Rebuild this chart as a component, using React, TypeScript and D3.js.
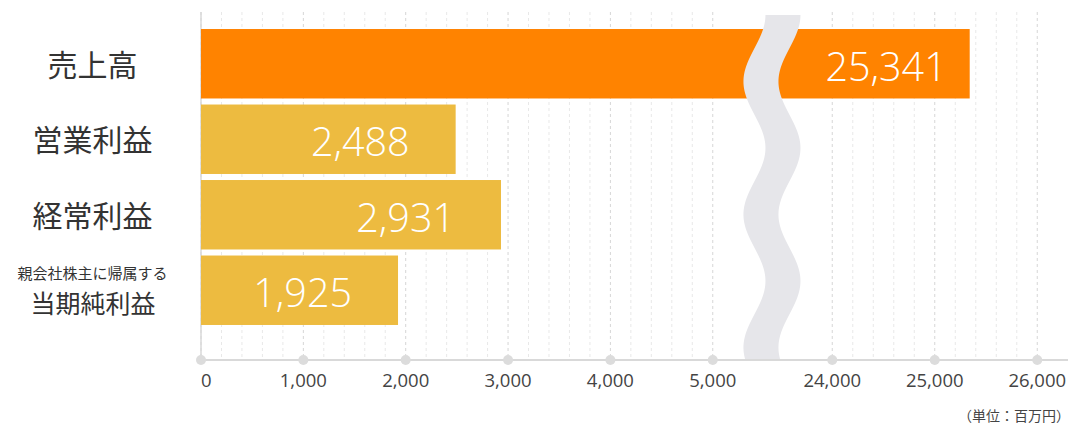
import React from "react";
import * as d3 from "d3";

const categories = ["売上高", "営業利益", "経常利益", "当期純利益"];
const subLabels = ["", "", "", "親会社株主に帰属する"];
const values = [25341, 2488, 2931, 1925];
const barColors = ["#FF8300", "#EDBB40", "#EDBB40", "#EDBB40"];
const tickValues = [0, 1000, 2000, 3000, 4000, 5000, 24000, 25000, 26000];
const breakLow = 5300;
const breakHigh = 23900;
const domainMax = 26300;
const unitLabel = "（単位：百万円）";

const W = 1074;
const H = 428;
const X0 = 201;
const AXIS_Y = 360;
const GRID_TOP = 12;

export default function App() {
  const x = d3
    .scaleLinear()
    .domain([0, breakLow, breakHigh, domainMax])
    .range([X0, X0 + breakLow * 0.10235, 1038.3 - (26000 - breakHigh) * 0.103, 1068]);

  const y = d3
    .scaleBand<string>()
    .domain(categories)
    .range([26, 328])
    .paddingInner(0.08)
    .paddingOuter(0.04);

  const fmt = d3.format(",");

  const minor = [
    ...d3.range(0, 5001, 200),
    ...d3.range(24000, 26001, 200),
  ];

  // break band
  const bandLeft = x(breakLow);
  const c = bandLeft + 28.5;
  const amp = 11;
  const period = 133;
  const half = 17.5;
  const ys = d3.range(15, 359.5, 1);
  const cx = (yy: number) => c + amp * Math.cos((2 * Math.PI * (yy - 15)) / period);
  const pts: [number, number][] = [
    ...ys.map((yy) => [cx(yy) - half, yy] as [number, number]),
    ...ys.slice().reverse().map((yy) => [cx(yy) + half, yy] as [number, number]),
  ];
  const bandPath = d3.line()(pts) + "Z";

  const jp = "'Noto Sans CJK JP', 'Noto Sans', sans-serif";
  const num = "'Open Sans', 'Noto Sans', sans-serif";

  return (
    <svg
      width={W}
      height={H}
      style={{ position: "absolute", left: 0, top: 0, display: "block", background: "#fff" }}
    >
      {/* grid */}
      {minor.map((v) => {
        const major = v % 1000 === 0;
        return (
          <line
            key={"g" + v}
            x1={x(v)}
            x2={x(v)}
            y1={GRID_TOP}
            y2={AXIS_Y}
            stroke={major ? "#d6d6d6" : "#e8e8e8"}
            strokeWidth={1}
            strokeDasharray="3,3"
          />
        );
      })}
      {/* left axis line */}
      <line x1={X0} x2={X0} y1={GRID_TOP} y2={AXIS_Y} stroke="#d9d9d9" strokeWidth={1.5} />

      {/* bars */}
      {categories.map((cat, i) => (
        <rect
          key={"b" + cat}
          x={x(0)}
          y={y(cat)!}
          width={x(values[i]) - x(0)}
          height={y.bandwidth()}
          fill={barColors[i]}
        />
      ))}

      {/* break band */}
      <path d={bandPath} fill="#E6E6EA" />

      {/* value labels */}
      {categories.map((cat, i) => (
        <text
          key={"v" + cat}
          x={x(values[i]) - (i === 0 ? 23 : 46)}
          y={y(cat)! + y.bandwidth() / 2 + 17}
          textAnchor="end"
          fill="#fff"
          fontFamily={num}
          fontWeight={300}
          fontSize={39.5}
        >
          {fmt(values[i])}
        </text>
      ))}

      {/* category labels */}
      {categories.map((cat, i) => {
        const cy = y(cat)! + y.bandwidth() / 2;
        if (subLabels[i]) {
          return (
            <g key={"c" + cat}>
              <text
                x={92.5}
                y={cy - 11}
                textAnchor="middle"
                fill="#333"
                fontFamily={jp}
                fontSize={15}
              >
                {subLabels[i]}
              </text>
              <text
                x={93}
                y={cy + 23}
                textAnchor="middle"
                fill="#333"
                fontFamily={jp}
                fontSize={25}
              >
                {cat}
              </text>
            </g>
          );
        }
        return (
          <text
            key={"c" + cat}
            x={92.5}
            y={cy + 12}
            textAnchor="middle"
            fill="#333"
            fontFamily={jp}
            fontSize={30}
          >
            {cat}
          </text>
        );
      })}

      {/* x axis */}
      <line x1={X0} x2={1068} y1={AXIS_Y} y2={AXIS_Y} stroke="#d9d9d9" strokeWidth={2} />
      {tickValues.map((v, i) => (
        <g key={"t" + v}>
          <circle cx={x(v)} cy={AXIS_Y} r={5} fill="#dcdcdc" />
          <text
            x={x(v)}
            y={387}
            textAnchor={i === 0 ? "start" : "middle"}
            fill="#444"
            fontFamily={num}
            fontSize={18.5}
          >
            {fmt(v)}
          </text>
        </g>
      ))}
      <text
        x={1070}
        y={421}
        textAnchor="end"
        fill="#444"
        fontFamily={jp}
        fontSize={14}
      >
        {unitLabel}
      </text>
    </svg>
  );
}
